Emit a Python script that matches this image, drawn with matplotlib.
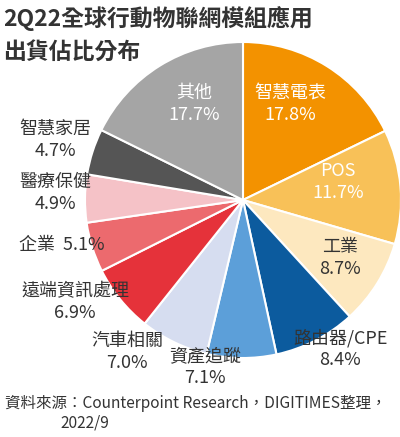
import matplotlib
matplotlib.use("Agg")
import matplotlib.pyplot as plt

plt.rcParams['font.family'] = ['Noto Sans CJK TC', 'DejaVu Sans']

categories = ["智慧電表", "POS", "工業", "路由器/CPE", "資產追蹤", "汽車相關",
              "遠端資訊處理", "企業", "醫療保健", "智慧家居", "其他"]
values = [17.8, 11.7, 8.7, 8.4, 7.1, 7.0, 6.9, 5.1, 4.9, 4.7, 17.7]
colors = ["#F39200", "#F8C158", "#FDE8BF", "#0C5B9E", "#5C9FD9", "#D6DDF0",
          "#E5323A", "#EC6A6E", "#F5C2C7", "#555555", "#A5A5A5"]

W, H = 400, 437
fig = plt.figure(figsize=(W/100, H/100), dpi=100)
cx, cy, r = 243, 200, 158
ax = fig.add_axes([(cx-r)/W, (H-cy-r)/H, 2*r/W, 2*r/H])
ax.pie(values, colors=colors, startangle=90, counterclock=False,
       wedgeprops=dict(edgecolor="white", linewidth=1.5))
ax.set_aspect("equal")
ax.set_xlim(-1, 1); ax.set_ylim(-1, 1)

def t(x, y, s, c="#333333", size=13, ha="center", **kw):
    fig.text(x/W, 1-y/H, s, color=c, fontsize=size*0.72, ha=ha, va="center", **kw)

fig.text(3/W, 1-19/H, "2Q22全球行動物聯網模組應用", fontsize=16.5, fontweight="bold",
         color="#333333", va="center")
fig.text(3/W, 1-52/H, "出貨佔比分布", fontsize=16.5, fontweight="bold",
         color="#333333", va="center")

lab = [(290, 104, "white"), (338, 182, "white"), (340, 258, "#333333"),
       (340, 349, "#333333"), (205, 367, "#333333"), (127, 352, "#333333"),
       (75, 302, "#333333"), (62, 245, "#333333"), (55, 193, "#333333"),
       (55, 140, "#333333"), (194, 104, "white")]
for (x, y, c), cat, v in zip(lab, categories, values):
    if cat == "企業":
        t(x, y, f"{cat}  {v:.1f}%", c, size=18)
    else:
        t(x, y - 11, cat, c, size=18)
        t(x, y + 11, f"{v:.1f}%", c, size=18)

t(5, 403, "資料來源：Counterpoint Research，DIGITIMES整理，", size=15.5, ha="left")
t(60, 423, "2022/9", size=15.5, ha="left")

fig.savefig("out.png", dpi=100)
